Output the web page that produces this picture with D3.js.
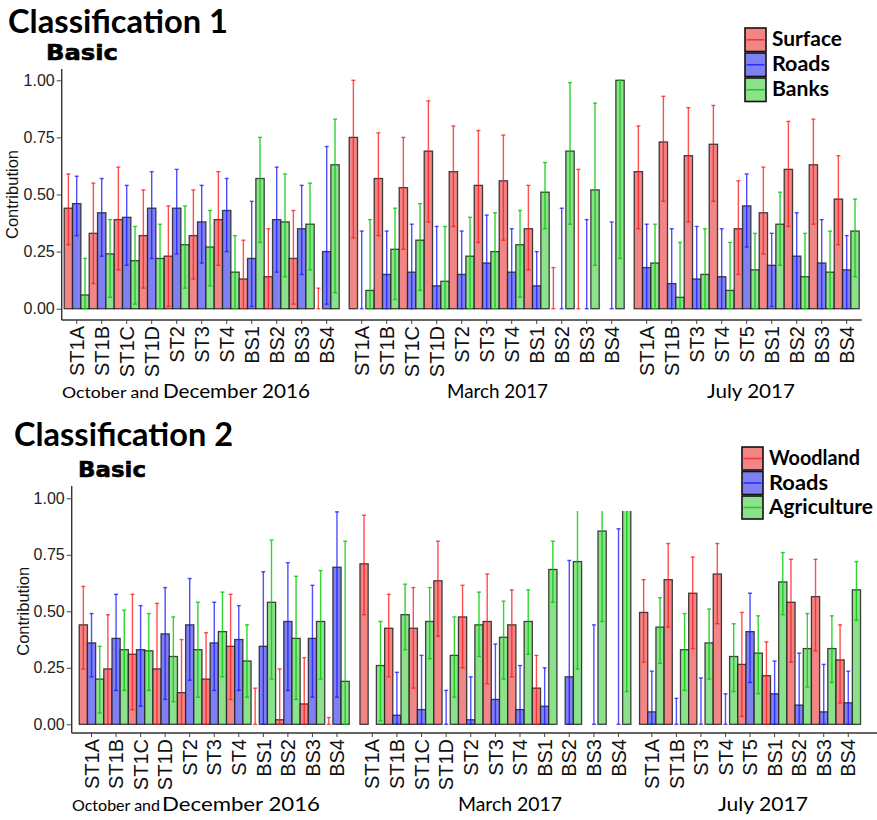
<!DOCTYPE html>
<html><head><meta charset="utf-8">
<script src="https://cdn.jsdelivr.net/npm/d3@7"></script>
<style>body{margin:0;background:#fff}svg{display:block}</style>
</head><body><svg id="c" width="877" height="820"></svg>
<script>
// ---------- data ----------
const catsOctDec = ["ST1A","ST1B","ST1C","ST1D","ST2","ST3","ST4","BS1","BS2","BS3","BS4"];
const catsMarch  = ["ST1A","ST1B","ST1C","ST1D","ST2","ST3","ST4","BS1","BS2","BS3","BS4"];
const catsJuly   = ["ST1A","ST1B","ST3","ST4","ST5","BS1","BS2","BS3","BS4"];
const facetPrefix = ["October and","",""];
const facetNames  = ["December 2016","March 2017","July 2017"];
const yTicks = [0, 0.25, 0.5, 0.75, 1.0];

const c1Series = ["Surface","Roads","Banks"];
const c1SurfaceMean = [0.44,0.33,0.39,0.32,0.23,0.32,0.39,0.13,0.14,0.22,0, 0.75,0.57,0.53,0.69,0.60,0.54,0.56,0.35,0,0,0, 0.60,0.73,0.67,0.72,0.35,0.42,0.61,0.63,0.48];
const c1SurfaceLo   = [0.28,0.11,0.17,0.09,0.01,0.13,0.19,0,0,0.02,0, 0.31,0.32,0.26,0.38,0.36,0.29,0.30,0.17,0,0,0, 0.35,0.47,0.38,0.47,0.15,0.24,0.36,0.37,0.28];
const c1SurfaceHi   = [0.59,0.55,0.62,0.52,0.45,0.52,0.60,0.30,0.35,0.43,0.09, 1.00,0.77,0.75,0.91,0.80,0.78,0.76,0.54,0.18,0.61,0, 0.80,0.93,0.88,0.89,0.56,0.62,0.82,0.83,0.67];
const c1RoadsMean = [0.46,0.42,0.40,0.44,0.44,0.38,0.43,0.22,0.39,0.35,0.25, 0,0.15,0.16,0.10,0.15,0.20,0.16,0.10,0,0,0, 0.18,0.11,0.13,0.14,0.45,0.19,0.23,0.20,0.17];
const c1RoadsLo   = [0.32,0.23,0.19,0.22,0.24,0.20,0.25,0.01,0.16,0.15,0.02, 0,0,0,0,0,0,0,0,0,0,0, 0,0,0,0,0.27,0.01,0,0,0];
const c1RoadsHi   = [0.58,0.57,0.54,0.60,0.61,0.54,0.57,0.47,0.62,0.54,0.71, 0.34,0.34,0.37,0.36,0.34,0.41,0.35,0.25,0.44,0.39,0.38, 0.37,0.35,0.36,0.35,0.59,0.33,0.42,0.39,0.32];
const c1BanksMean = [0.06,0.24,0.21,0.22,0.28,0.27,0.16,0.57,0.38,0.37,0.63, 0.08,0.26,0.30,0.12,0.23,0.25,0.28,0.51,0.69,0.52,1.00, 0.20,0.05,0.15,0.08,0.17,0.37,0.14,0.16,0.34];
const c1BanksLo   = [0,0.05,0.02,0,0.09,0.10,0,0.29,0.14,0.17,0.07, 0,0.04,0.08,0,0,0,0.05,0.35,0.37,0.19,0.22, 0,0,0,0,0,0.19,0,0,0.14];
const c1BanksHi   = [0.22,0.39,0.36,0.37,0.45,0.43,0.32,0.75,0.59,0.55,0.83, 0.39,0.44,0.46,0.36,0.40,0.42,0.43,0.64,0.99,0.90,1.00, 0.37,0.29,0.35,0.29,0.33,0.51,0.33,0.34,0.48];

const c2Series = ["Woodland","Roads","Agriculture"];
const c2WoodlandMean = [0.44,0.245,0.31,0.245,0.14,0.20,0.345,0,0.02,0.09,0, 0.71,0.425,0.425,0.635,0.475,0.455,0.44,0.16,0,0,0, 0.495,0.64,0.58,0.665,0.265,0.215,0.54,0.565,0.285];
const c2WoodlandLo   = [0.245,0,0.065,0,0,0,0.11,0,0,0,0, 0.485,0.21,0.16,0.39,0.25,0.18,0.21,0,0,0,0, 0.275,0.43,0.335,0.445,0.035,0,0.275,0.325,0.095];
const c2WoodlandHi   = [0.61,0.485,0.575,0.535,0.375,0.405,0.575,0.16,0.245,0.295,0.03, 0.925,0.575,0.605,0.81,0.615,0.665,0.595,0.305,0,0,0, 0.64,0.80,0.74,0.80,0.495,0.365,0.73,0.73,0.44];
const c2RoadsMean = [0.36,0.38,0.33,0.40,0.44,0.36,0.375,0.345,0.455,0.38,0.695, 0,0.04,0.065,0,0.02,0.11,0.065,0.08,0.21,0,0, 0.055,0,0,0,0.41,0.135,0.085,0.055,0.095];
const c2RoadsLo   = [0.21,0.15,0.08,0.11,0.195,0.15,0.15,0,0.15,0.12,0.12, 0,0,0,0,0,0,0,0,0,0,0, 0,0,0,0,0.185,0,0,0,0];
const c2RoadsHi   = [0.49,0.575,0.525,0.605,0.645,0.54,0.525,0.675,0.715,0.615,0.94, 0,0.23,0.305,0.15,0.21,0.355,0.26,0.25,0.725,0.44,0.865, 0.235,0.115,0.205,0.135,0.58,0.28,0.315,0.265,0.235];
const c2AgriMean = [0.20,0.33,0.325,0.30,0.33,0.41,0.28,0.54,0.38,0.455,0.19, 0.26,0.485,0.455,0.305,0.44,0.385,0.455,0.685,0.72,0.855,1.0, 0.43,0.33,0.36,0.30,0.315,0.63,0.335,0.335,0.595];
const c2AgriLo   = [0.05,0.15,0.15,0.10,0.12,0.21,0.12,0.20,0.11,0.20,0, 0.015,0.33,0.29,0.12,0.30,0.20,0.31,0.54,0.245,0.455,0.145, 0.27,0.15,0.20,0.145,0.135,0.485,0.165,0.185,0.46];
const c2AgriHi   = [0.345,0.505,0.49,0.475,0.54,0.585,0.44,0.815,0.655,0.68,0.81, 0.455,0.62,0.605,0.475,0.585,0.545,0.595,0.81,1.0,1.0,1.0, 0.56,0.49,0.51,0.445,0.48,0.76,0.49,0.48,0.72];

// ---------- styles / layout ----------
const fills = ["#f28686","#8080f5","#8ce28c"];
const errCols = ["rgba(255,20,20,0.75)","rgba(20,20,255,0.75)","rgba(0,200,0,0.8)"];
const facetCats = [catsOctDec, catsMarch, catsJuly];

const svg = d3.select("#c");
const defs = svg.append("defs");

function drawChart(cfg, seriesNames, means, los, his) {
  const g = svg.append("g");
  const y = d3.scaleLinear().domain([0,1]).range([cfg.y0, cfg.y1]);

  // titles
  g.append("text").attr("x",cfg.titleX).attr("y",cfg.titleY)
    .attr("font-family","Lato, 'Open Sans', sans-serif").attr("font-weight",700)
    .attr("font-size",32).attr("textLength",cfg.titleW).attr("lengthAdjust","spacingAndGlyphs")
    .attr("fill","#000").text(cfg.title);
  g.append("text").attr("x",cfg.basicX).attr("y",cfg.basicY)
    .attr("font-family","'DejaVu Sans', sans-serif").attr("font-weight",700)
    .attr("font-size",22).attr("textLength",cfg.basicW).attr("lengthAdjust","spacingAndGlyphs")
    .attr("stroke","#000").attr("stroke-width",0.6)
    .attr("fill","#000").text("Basic");

  // clip
  const clipId = "clip" + cfg.id;
  defs.append("clipPath").attr("id",clipId).append("rect")
    .attr("x",0).attr("y",cfg.clipTop).attr("width",877).attr("height",cfg.axisY - cfg.clipTop);
  const plot = g.append("g").attr("clip-path",`url(#${clipId})`);
  const errG = g.append("g").attr("clip-path",`url(#${clipId})`);

  let offset = 0;
  facetCats.forEach((cats, fi) => {
    const xf = d3.scaleBand().domain(cats).range(cfg.facetRanges[fi]).paddingInner(0).paddingOuter(0.1);
    const xs = d3.scaleBand().domain(seriesNames).range([0, xf.bandwidth()]);
    const rows = [];
    cats.forEach((c, ci) => {
      seriesNames.forEach((s, si) => {
        const k = offset + ci;
        rows.push({cat:c, s, si, v:means[si][k], lo:los[si][k], hi:his[si][k]});
      });
    });
    plot.selectAll(null).data(rows.filter(d => d.v > 0)).enter().append("rect")
      .attr("x", d => xf(d.cat) + xs(d.s))
      .attr("y", d => y(d.v))
      .attr("width", xs.bandwidth())
      .attr("height", d => y(0) - y(d.v))
      .attr("fill", d => fills[d.si])
      .attr("stroke","#222").attr("stroke-opacity",0.85).attr("stroke-width",1.3);
    const eb = rows.filter(d => d.hi > d.lo);
    const cx = d => xf(d.cat) + xs(d.s) + xs.bandwidth()/2;
    errG.selectAll(null).data(eb).enter().append("line")
      .attr("x1",cx).attr("x2",cx).attr("y1",d=>y(d.lo)).attr("y2",d=>y(d.hi))
      .attr("stroke",d=>errCols[d.si]).attr("stroke-width",1.4);
    ["lo","hi"].forEach(key => {
      errG.selectAll(null).data(eb).enter().append("line")
        .attr("x1",d=>cx(d)-2).attr("x2",d=>cx(d)+2).attr("y1",d=>y(d[key])).attr("y2",d=>y(d[key]))
        .attr("stroke",d=>errCols[d.si]).attr("stroke-width",1.4);
    });

    // x axis ticks and labels
    const ax = g.append("g").attr("transform",`translate(0,${cfg.axisY})`)
      .call(d3.axisBottom(xf).tickSize(4).tickSizeOuter(0));
    ax.select(".domain").remove();
    ax.selectAll(".tick line").attr("stroke","#444").attr("stroke-width",1);
    ax.selectAll(".tick text")
      .attr("transform","rotate(-90)").attr("text-anchor","end")
      .attr("x",-6).attr("y",0).attr("dy","0.36em")
      .attr("font-family","'Liberation Sans', Arial, sans-serif").attr("font-size",cfg.catFont)
      .attr("fill","#111");

    // facet label
    const fl = cfg.facetLabels[fi];
    if (facetPrefix[fi]) {
      g.append("text").attr("x",fl.px).attr("y",cfg.facetY)
        .attr("font-family","Lato, sans-serif").attr("font-size",16)
        .attr("textLength",fl.pw).attr("lengthAdjust","spacingAndGlyphs")
        .attr("fill","#000").text(facetPrefix[fi]);
    }
    g.append("text").attr("x",fl.x).attr("y",cfg.facetY)
      .attr("font-family","Lato, sans-serif").attr("font-size",19)
      .attr("textLength",fl.w).attr("lengthAdjust","spacingAndGlyphs")
      .attr("fill","#000").text(facetNames[fi]);

    offset += cats.length;
  });

  // axes lines
  g.append("line").attr("x1",cfg.yAxisX).attr("x2",cfg.xEnd).attr("y1",cfg.axisY).attr("y2",cfg.axisY)
    .attr("stroke","#333").attr("stroke-width",1.4);
  g.append("line").attr("x1",cfg.yAxisX).attr("x2",cfg.yAxisX).attr("y1",cfg.panelTop).attr("y2",cfg.axisY)
    .attr("stroke","#333").attr("stroke-width",1.4);
  const ay = g.append("g").attr("transform",`translate(${cfg.yAxisX},0)`)
    .call(d3.axisLeft(y).tickValues(yTicks).tickFormat(d3.format(".2f")).tickSize(5).tickSizeOuter(0));
  ay.select(".domain").remove();
  ay.selectAll(".tick line").attr("stroke","#444");
  ay.selectAll(".tick text").attr("font-family","'Liberation Sans', Arial, sans-serif")
    .attr("font-size",16).attr("fill","#222").attr("x",-7);
  g.append("text")
    .attr("transform",`translate(${cfg.ylabX},${(cfg.y0+cfg.y1)/2}) rotate(-90)`)
    .attr("text-anchor","middle")
    .attr("font-family","'Liberation Sans', Arial, sans-serif").attr("font-size",16.5)
    .attr("fill","#111").text("Contribution");

  // legend
  seriesNames.forEach((s, i) => {
    const top = cfg.legY + i*cfg.legH;
    g.append("rect").attr("x",cfg.legX).attr("y",top).attr("width",21).attr("height",cfg.legH-1.5)
      .attr("fill",fills[i]).attr("stroke","#111").attr("stroke-width",1.6);
    g.append("line").attr("x1",cfg.legX+1.5).attr("x2",cfg.legX+19.5)
      .attr("y1",top+(cfg.legH-1.5)/2).attr("y2",top+(cfg.legH-1.5)/2)
      .attr("stroke",errCols[i]).attr("stroke-width",1.6);
    g.append("text").attr("x",cfg.legX+27).attr("y",top+18)
      .attr("font-family","Lato, sans-serif").attr("font-weight",700).attr("font-size",20)
      .attr("textLength",cfg.legW[i]).attr("lengthAdjust","spacingAndGlyphs")
      .attr("fill","#000").text(s);
  });
}

drawChart({
  id:1, title:"Classification 1", titleX:8, titleY:33, titleW:220,
  basicX:46, basicY:60, basicW:72,
  y0:308.7, y1:80.3, panelTop:69, axisY:320, clipTop:0, yAxisX:61.7, xEnd:861.7, ylabX:18,
  facetRanges:[[61.7,341.7],[346.7,626.7],[631.7,861.7]], catFont:20,
  facetY:398,
  facetLabels:[{px:62,pw:97,x:163,w:147},{x:447,w:101},{x:707,w:88}],
  legX:745, legY:28, legH:25, legW:[70,58,57]
}, c1Series,
 [c1SurfaceMean,c1RoadsMean,c1BanksMean],
 [c1SurfaceLo,c1RoadsLo,c1BanksLo],
 [c1SurfaceHi,c1RoadsHi,c1BanksHi]);

drawChart({
  id:2, title:"Classification 2", titleX:14, titleY:446, titleW:219,
  basicX:78, basicY:477, basicW:68,
  y0:724.3, y1:498.3, panelTop:486, axisY:733, clipTop:511, yAxisX:71.7, xEnd:877, ylabX:29,
  facetRanges:[[76.8,351.7],[357.5,633.3],[637.1,863]], catFont:20,
  facetY:811,
  facetLabels:[{px:72,pw:88,x:162,w:158},{x:458,w:104},{x:718,w:90}],
  legX:742, legY:447, legH:24.5, legW:[91,59,104]
}, c2Series,
 [c2WoodlandMean,c2RoadsMean,c2AgriMean],
 [c2WoodlandLo,c2RoadsLo,c2AgriLo],
 [c2WoodlandHi,c2RoadsHi,c2AgriHi]);
</script>
</body></html>
